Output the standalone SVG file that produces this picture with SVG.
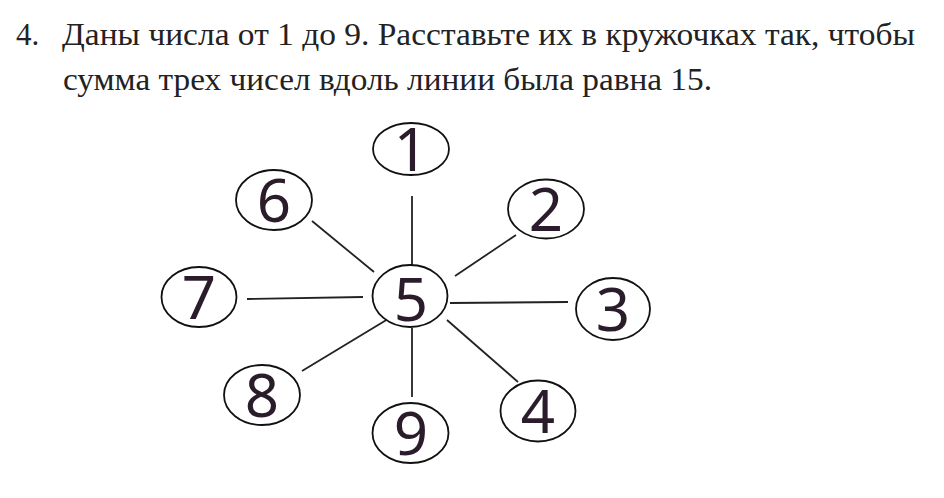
<svg xmlns="http://www.w3.org/2000/svg" width="944" height="498" viewBox="0 0 944 498">
<style>
.t{font-family:'Liberation Serif','Times New Roman',serif;font-size:31px;fill:#222}
.e{fill:#fff;stroke:#111;stroke-width:1.8}
.n{font-family:'Noto Sans','Open Sans',sans-serif;font-size:60px;fill:#2a1c2a;text-anchor:middle}
.c line{stroke:#222;stroke-width:1.8}
</style>
<rect width="944" height="498" fill="#fff"/>
<text class="t" x="16" y="45">4.</text>
<text class="t" x="62" y="45" textLength="853" lengthAdjust="spacingAndGlyphs">Даны числа от 1 до 9. Расставьте их в кружочках так, чтобы</text>
<text class="t" x="63" y="90" textLength="649" lengthAdjust="spacingAndGlyphs">сумма трех чисел вдоль линии была равна 15.</text>
<g id="connectors" class="c">
<line x1="412" y1="196" x2="412" y2="265"/>
<line x1="312" y1="221" x2="374" y2="272"/>
<line x1="516" y1="235" x2="455" y2="276"/>
<line x1="247" y1="299" x2="363" y2="297"/>
<line x1="450" y1="303" x2="568" y2="302"/>
<line x1="302" y1="371" x2="388" y2="319"/>
<line x1="412" y1="328" x2="412" y2="397"/>
<line x1="447" y1="320" x2="518" y2="382"/>
</g>
<g id="n1"><ellipse class="e" cx="411" cy="149" rx="38" ry="26"/><text class="n" x="411" y="171">1</text></g>
<g id="n6"><ellipse class="e" cx="274" cy="200" rx="38" ry="30"/><text class="n" x="274" y="222">6</text></g>
<g id="n2"><ellipse class="e" cx="546" cy="209" rx="38" ry="29.5"/><text class="n" x="546" y="231">2</text></g>
<g id="n7"><ellipse class="e" cx="199" cy="297" rx="37.5" ry="30"/><text class="n" x="199" y="319">7</text></g>
<g id="n5"><ellipse class="e" cx="410" cy="296" rx="37.5" ry="31"/><text class="n" x="411" y="321">5</text></g>
<g id="n3"><ellipse class="e" cx="613" cy="309" rx="37" ry="31"/><text class="n" x="613" y="331">3</text></g>
<g id="n8"><ellipse class="e" cx="262" cy="395" rx="38" ry="30"/><text class="n" x="262" y="417">8</text></g>
<g id="n9"><ellipse class="e" cx="410.5" cy="433" rx="38" ry="30"/><text class="n" x="411" y="455">9</text></g>
<g id="n4"><ellipse class="e" cx="538" cy="411" rx="37.5" ry="30.5"/><text class="n" x="538" y="433">4</text></g>
</svg>
